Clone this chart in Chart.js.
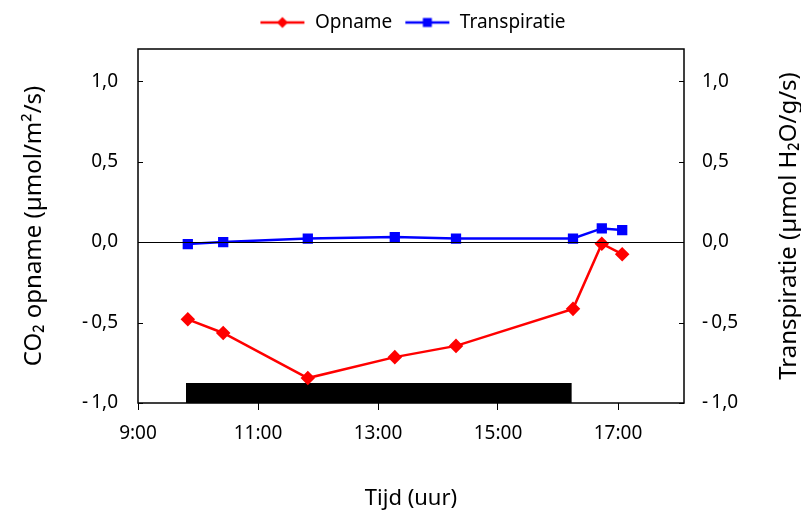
<!DOCTYPE html>
<html>
<head>
    <style>
        body { margin: 0; background: white; }
    </style>
    <script src="https://cdn.jsdelivr.net/npm/chart.js"></script>
</head>
<body>
    <canvas id="chart" width="801" height="513"></canvas>
    <script>
        // Time in decimal hours
        const opnameTimes = [9.83, 10.42, 11.83, 13.28, 14.3, 16.25, 16.73, 17.07];
        const opnameValues = [-0.48, -0.565, -0.845, -0.715, -0.645, -0.415, -0.01, -0.075];
        const transpTimes = [9.83, 10.42, 11.83, 13.28, 14.3, 16.25, 16.73, 17.07];
        const transpValues = [-0.012, 0.0, 0.022, 0.031, 0.022, 0.022, 0.085, 0.075];
        // dark period bar (start, end, top)
        const darkTimes = [9.8, 16.23];
        const darkTop = [-0.876, -0.876];
        const xTicks = [9, 11, 13, 15, 17];
        const yTicks = [-1, -0.5, 0, 0.5, 1];
        const rightTitle = 'Transpiratie (\u00b5mol H\u2082O/g/s)';

        const FONT = '"Noto Sans", "DejaVu Sans", sans-serif';

        // legend symbol: a short line with the marker on it
        function legendSymbol(color, shape) {
            const c = document.createElement('canvas');
            c.width = 46; c.height = 14;
            const g = c.getContext('2d');
            g.strokeStyle = color; g.lineWidth = 2.5;
            g.beginPath(); g.moveTo(1, 7); g.lineTo(45, 7); g.stroke();
            g.fillStyle = color;
            if (shape === 'diamond') {
                g.beginPath(); g.moveTo(23, 1.5); g.lineTo(28.5, 7); g.lineTo(23, 12.5); g.lineTo(17.5, 7); g.closePath(); g.fill();
            } else {
                g.fillRect(18.5, 2.5, 9, 9);
            }
            return c;
        }

        const fmt = v => {
            const s = Math.abs(v).toFixed(1).replace('.', ',');
            return v < 0 ? '-\u2009' + s : s;
        };

        const frame = {
            id: 'frame',
            afterLayout(chart) {
                // legend sits a little right of centre in the original
                chart.legend.left += 12;
                chart.legend.right += 12;
            },
            afterDatasetsDraw(chart) {
                const { ctx, chartArea: a } = chart;
                const y = chart.scales.y;
                ctx.save();
                ctx.strokeStyle = '#000';
                ctx.lineWidth = 1.5;
                ctx.strokeRect(a.left, a.top, a.right - a.left, a.bottom - a.top);
                ctx.lineWidth = 1;
                ctx.beginPath();
                const y0 = Math.round(y.getPixelForValue(0)) + 0.5;
                ctx.moveTo(a.left, y0); ctx.lineTo(a.right, y0);
                yTicks.forEach(t => {
                    const p = Math.round(y.getPixelForValue(t)) + 0.5;
                    ctx.moveTo(a.left, p); ctx.lineTo(a.left + 5, p);
                    ctx.moveTo(a.right, p); ctx.lineTo(a.right - 5, p);
                });
                ctx.stroke();
                // right axis title, reading bottom to top
                ctx.translate(789, (a.top + a.bottom) / 2);
                ctx.rotate(-Math.PI / 2);
                ctx.fillStyle = '#000';
                ctx.font = '24px ' + FONT;
                ctx.textAlign = 'center';
                ctx.textBaseline = 'middle';
                ctx.fillText(rightTitle, 0, 0);
                ctx.restore();
            }
        };

        new Chart(document.getElementById('chart'), {
            type: 'line',
            data: {
                datasets: [
                    {
                        label: 'dark',
                        data: darkTimes.map((t, i) => ({ x: t, y: darkTop[i] })),
                        borderWidth: 0,
                        pointRadius: 0,
                        backgroundColor: '#000',
                        fill: 'start',
                        yAxisID: 'y',
                        order: 3
                    },
                    {
                        label: 'Opname',
                        data: opnameTimes.map((t, i) => ({ x: t, y: opnameValues[i] })),
                        borderColor: '#ff0000',
                        backgroundColor: '#ff0000',
                        borderWidth: 2.5,
                        pointStyle: 'rectRot',
                        pointRadius: 5.5,
                        yAxisID: 'y',
                        order: 2
                    },
                    {
                        label: 'Transpiratie',
                        data: transpTimes.map((t, i) => ({ x: t, y: transpValues[i] })),
                        borderColor: '#0000ff',
                        backgroundColor: '#0000ff',
                        borderWidth: 2.5,
                        pointStyle: 'rect',
                        pointRadius: 5.5,
                        yAxisID: 'y2',
                        order: 1
                    }
                ]
            },
            options: {
                responsive: false,
                animation: false,
                layout: { padding: { top: 1, right: 0, bottom: 0, left: 0 } },
                scales: {
                    x: {
                        type: 'linear',
                        min: 9, max: 18.1,
                        afterBuildTicks: s => { s.ticks = xTicks.map(v => ({ value: v })); },
                        afterFit: s => { s.height = 110; },
                        ticks: {
                            callback: v => v + ':00',
                            color: '#000',
                            font: { family: FONT, size: 19 },
                            padding: 12,
                            maxRotation: 0
                        },
                        grid: { drawOnChartArea: false, tickLength: 7, color: '#000' },
                        border: { display: false },
                        title: {
                            display: true, text: 'Tijd (uur)', color: '#000',
                            font: { family: FONT, size: 22 }, padding: { top: 33, bottom: 1 }
                        }
                    },
                    // spacer between legend and plot
                    xTop: {
                        type: 'linear',
                        position: 'top',
                        afterFit: s => { s.height = 7; },
                        ticks: { display: false },
                        grid: { display: false, drawTicks: false },
                        border: { display: false }
                    },
                    y: {
                        position: 'left',
                        min: -1, max: 1.2,
                        afterBuildTicks: s => { s.ticks = yTicks.map(v => ({ value: v })); },
                        afterFit: s => { s.width = 138; },
                        ticks: { callback: fmt, color: '#000', font: { family: FONT, size: 19 }, padding: 20 },
                        grid: { display: false, drawTicks: false },
                        border: { display: false },
                        title: {
                            display: true, text: 'CO\u2082 opname (\u00b5mol/m\u00b2/s)', color: '#000',
                            font: { family: FONT, size: 24 }, padding: { top: 20, bottom: 0 }
                        }
                    },
                    y2: {
                        position: 'right',
                        min: -1, max: 1.2,
                        afterBuildTicks: s => { s.ticks = yTicks.map(v => ({ value: v })); },
                        afterFit: s => { s.width = 117; },
                        ticks: { callback: fmt, color: '#000', font: { family: FONT, size: 19 }, padding: 18 },
                        grid: { display: false, drawTicks: false },
                        border: { display: false }
                    }
                },
                plugins: {
                    legend: {
                        position: 'top',
                        labels: {
                            color: '#000',
                            font: { family: FONT, size: 19 },
                            usePointStyle: true,
                            pointStyleWidth: 46,
                            padding: 12,
                            filter: item => item.text !== 'dark',
                            generateLabels: chart => chart.data.datasets.map((d, i) => ({
                                text: d.label,
                                datasetIndex: i,
                                fontColor: '#000',
                                lineWidth: 0,
                                pointStyle: d.label === 'Opname' ? legendSymbol('#ff0000', 'diamond') : legendSymbol('#0000ff', 'square')
                            }))
                        }
                    },
                    tooltip: { enabled: false }
                }
            },
            plugins: [frame]
        });
    </script>
</body>
</html>
